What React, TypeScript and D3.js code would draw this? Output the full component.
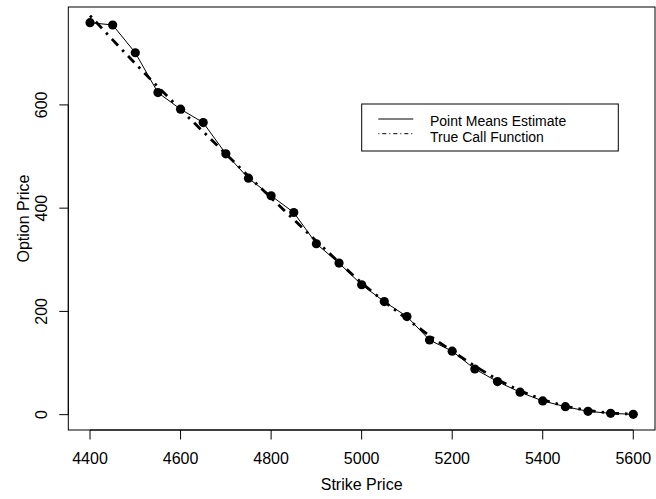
import React from "react";
import * as d3 from "d3";

const strikes = [4400, 4450, 4500, 4550, 4600, 4650, 4700, 4750, 4800, 4850, 4900, 4950, 5000, 5050, 5100, 5150, 5200, 5250, 5300, 5350, 5400, 5450, 5500, 5550, 5600];
const pointMeans = [759.3, 754.8, 701, 623.8, 591.7, 565.7, 505.2, 458, 424, 391.6, 331, 293.6, 251.6, 219, 190, 144.6, 123, 88.4, 64, 43.5, 26.5, 15.5, 6.4, 2.6, 0.6];
const trueCall = [773, 726, 680, 635, 591, 548, 505, 462, 420, 378, 336, 295, 255, 219, 185, 153, 123, 94, 68, 46, 29, 16, 8, 3, 1];
const xTicks = [4400, 4600, 4800, 5000, 5200, 5400, 5600];
const yTicks = [0, 200, 400, 600];
const legendLabels = ["Point Means Estimate", "True Call Function"];

const W = 656, H = 499;
const L = 68.3, R = 655, T = 7, B = 430;
const FONT = "Liberation Sans, Arial, Helvetica, sans-serif";

export default function App() {
  const xr = d3.extent(strikes) as [number, number];
  const xpad = (xr[1] - xr[0]) * 0.04;
  const x = d3.scaleLinear().domain([xr[0] - xpad, xr[1] + xpad]).range([L, R]);
  const yr = d3.extent(pointMeans) as [number, number];
  const ypad = (yr[1] - yr[0]) * 0.04;
  const y = d3.scaleLinear().domain([yr[0] - ypad, yr[1] + ypad]).range([B, T]);

  const line = d3.line<number>().x((_, i) => x(strikes[i])).y((d) => y(d));

  return (
    <svg width={W} height={H} style={{ position: "absolute", left: 0, top: 0, background: "#fff" }} fontFamily={FONT}>
      <rect x={0} y={0} width={W} height={H} fill="#fff" />
      {/* true call function */}
      <path d={line(trueCall) || ""} fill="none" stroke="#000" strokeWidth={2.8} strokeDasharray="2.5 6 9 6" />
      {/* point means */}
      <path d={line(pointMeans) || ""} fill="none" stroke="#000" strokeWidth={1} />
      {pointMeans.map((v, i) => (
        <circle key={i} cx={x(strikes[i])} cy={y(v)} r={4.6} fill="#000" />
      ))}
      {/* box */}
      <rect x={L} y={T} width={R - L} height={B - T} fill="none" stroke="#000" strokeWidth={1} />
      {/* x axis */}
      <line x1={x(xTicks[0])} x2={x(xTicks[xTicks.length - 1])} y1={B} y2={B} stroke="#000" />
      {xTicks.map((t) => (
        <g key={t}>
          <line x1={x(t)} x2={x(t)} y1={B} y2={B + 9.5} stroke="#000" />
          <text x={x(t)} y={B + 33.5} fontSize={16} textAnchor="middle">{t}</text>
        </g>
      ))}
      {/* y axis */}
      <line x1={L} x2={L} y1={y(yTicks[0])} y2={y(yTicks[yTicks.length - 1])} stroke="#000" />
      {yTicks.map((t) => (
        <g key={t}>
          <line x1={L} x2={L - 9} y1={y(t)} y2={y(t)} stroke="#000" />
          <text transform={`translate(${L - 21.5},${y(t)}) rotate(-90)`} fontSize={16} textAnchor="middle">{t}</text>
        </g>
      ))}
      <text x={(L + R) / 2} y={490} fontSize={16} textAnchor="middle">Strike Price</text>
      <text transform={`translate(28.5,${(T + B) / 2}) rotate(-90)`} fontSize={16} textAnchor="middle">Option Price</text>
      {/* legend */}
      <rect x={361.7} y={104} width={256.6} height={47} fill="#fff" stroke="#000" strokeWidth={1} />
      <line x1={378.3} x2={413.3} y1={119} y2={119} stroke="#000" strokeWidth={1} />
      <line x1={378.3} x2={413.3} y1={133.7} y2={133.7} stroke="#000" strokeWidth={1} strokeDasharray="1 3 4 3" />
      <text x={430} y={126} fontSize={14}>{legendLabels[0]}</text>
      <text x={430} y={141.5} fontSize={14}>{legendLabels[1]}</text>
    </svg>
  );
}
